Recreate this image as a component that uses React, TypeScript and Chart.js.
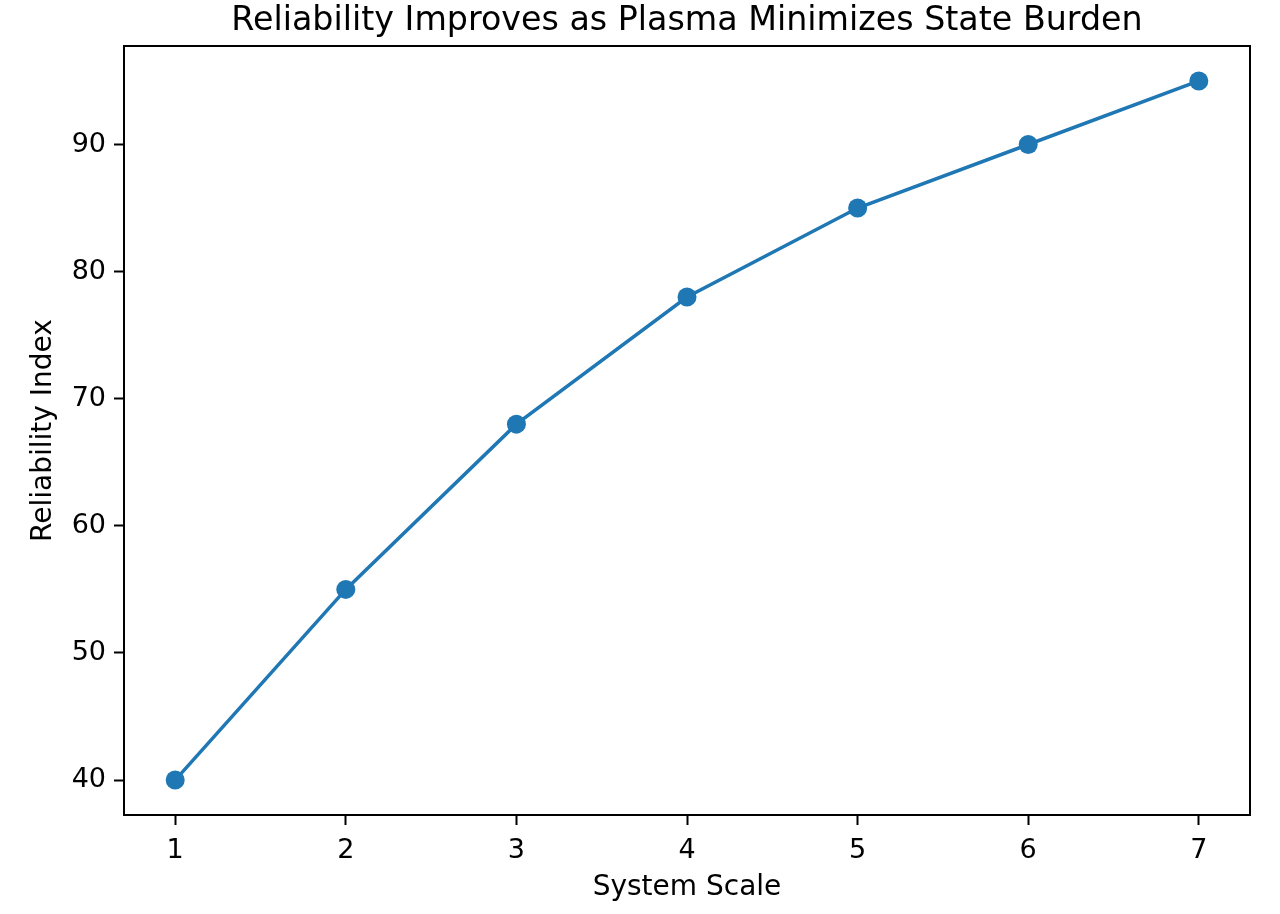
import React, { useEffect, useRef } from "react";
import { Chart, registerables } from "chart.js";

Chart.register(...registerables);

const TITLE = "Reliability Improves as Plasma Minimizes State Burden";
const X_LABEL = "System Scale";
const Y_LABEL = "Reliability Index";
const xValues = [1, 2, 3, 4, 5, 6, 7];
const reliability = [40, 55, 68, 78, 85, 90, 95];
const yTicks = [40, 50, 60, 70, 80, 90];
const xTicks = [1, 2, 3, 4, 5, 6, 7];

const FONT = "'DejaVu Sans', sans-serif";
const COLOR = "#1f77b4";

export default function App() {
  const ref = useRef<HTMLCanvasElement | null>(null);

  useEffect(() => {
    document.body.style.margin = "0";
    const ctx = ref.current!.getContext("2d")!;
    const chart = new Chart(ctx, {
      type: "line",
      data: {
        datasets: [
          {
            data: xValues.map((x, i) => ({ x, y: reliability[i] })),
            borderColor: COLOR,
            backgroundColor: COLOR,
            borderWidth: 3.5,
            pointRadius: 9.5,
            pointHoverRadius: 9.5,
            pointBorderWidth: 0,
            pointBackgroundColor: COLOR,
            tension: 0,
          },
        ],
      },
      options: {
        animation: false,
        responsive: false,
        devicePixelRatio: 1,
        layout: { padding: { left: 0, right: 30, top: 46, bottom: 0 } },
        plugins: {
          legend: { display: false },
          tooltip: { enabled: false },
          title: { display: false },
        },
        scales: {
          x: {
            type: "linear",
            min: 0.7,
            max: 7.3,
            afterBuildTicks: (s: any) => {
              s.ticks = xTicks.map((v) => ({ value: v }));
            },
            afterFit: (s: any) => {
              s.height = 99;
            },
            ticks: {
              color: "#000",
              font: { family: FONT, size: 27, lineHeight: 1.2 },
              padding: 10,
              maxRotation: 0,
              autoSkip: false,
            },
            grid: {
              display: true,
              drawOnChartArea: false,
              drawTicks: true,
              tickLength: 10,
              tickWidth: 2,
              tickColor: "#000",
              color: "#000",
            },
            border: { display: true, color: "#000", width: 2 },
            title: {
              display: true,
              text: X_LABEL,
              color: "#000",
              font: { family: FONT, size: 28, lineHeight: 1.2 },
              padding: { top: 0, bottom: 9 },
            },
          },
          y: {
            type: "linear",
            min: 37.25,
            max: 97.75,
            afterBuildTicks: (s: any) => {
              s.ticks = yTicks.map((v) => ({ value: v }));
            },
            afterFit: (s: any) => {
              s.width = 124;
            },
            ticks: {
              color: "#000",
              font: { family: FONT, size: 27, lineHeight: 1.2 },
              padding: 8,
            },
            grid: {
              display: true,
              drawOnChartArea: false,
              drawTicks: true,
              tickLength: 10,
              tickWidth: 2,
              tickColor: "#000",
              color: "#000",
            },
            border: { display: true, color: "#000", width: 2 },
            title: {
              display: true,
              text: Y_LABEL,
              color: "#000",
              font: { family: FONT, size: 28, lineHeight: 1.2 },
              padding: { top: 27, bottom: 0 },
            },
          },
        },
      },
      plugins: [
        {
          id: "frameAndTitle",
          afterDraw: (c: any) => {
            const { left, right, top, bottom } = c.chartArea;
            const g = c.ctx;
            g.save();
            g.strokeStyle = "#000";
            g.lineWidth = 2;
            g.beginPath();
            g.moveTo(left, top);
            g.lineTo(right, top);
            g.lineTo(right, bottom);
            g.stroke();
            g.fillStyle = "#000";
            g.font = `33.3px ${FONT}`;
            g.textAlign = "center";
            g.textBaseline = "alphabetic";
            g.fillText(TITLE, (left + right) / 2, 30);
            g.restore();
          },
        },
      ],
    } as any);
    return () => chart.destroy();
  }, []);

  return (
    <div style={{ position: "absolute", left: 0, top: 0, width: 1280, height: 914, background: "#fff" }}>
      <canvas ref={ref} width={1280} height={914} style={{ width: 1280, height: 914 }} />
    </div>
  );
}
